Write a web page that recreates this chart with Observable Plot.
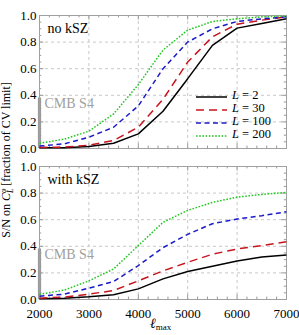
<!DOCTYPE html>
<html><head><meta charset="utf-8">
<script src="https://cdn.jsdelivr.net/npm/d3@7"></script>
<script src="https://cdn.jsdelivr.net/npm/@observablehq/plot@0.6"></script>
<style>
html,body{margin:0;padding:0;background:#fff;}
#wrap{position:relative;width:299px;height:335px;font-family:"Liberation Serif",serif;overflow:hidden;}
#wrap svg{position:absolute;left:0;}
#wrap svg text{font-family:"Liberation Serif",serif;}
.legend{position:absolute;left:196px;top:90px;font-size:12.5px;}
.legend .row{display:block;position:relative;height:13px;white-space:nowrap;}
.legend .row svg{position:absolute !important;left:0;top:4.5px;}
.legend .row span{position:absolute;left:36px;top:-1px;line-height:12px;}
#ylab{position:absolute;left:7px;top:160px;transform:translate(-50%,-50%) rotate(-90deg);font-size:12px;white-space:nowrap;}
#xlab{position:absolute;left:150px;top:317px;font-size:14px;line-height:14px;white-space:nowrap;}
#xlab .sub{font-size:9px;position:relative;top:2px;}
</style>
</head><body>
<div id="wrap"></div>
<script>
const ellMax = [2000,2500,3000,3500,4000,4500,5000,5500,6000,6500,7000];
const Ls = [2, 30, 100, 200];
const noKSZ_L2   = [0.005,0.005,0.015,0.04,0.11,0.28,0.525,0.775,0.905,0.94,0.975];
const noKSZ_L30  = [0.008,0.01,0.025,0.06,0.16,0.37,0.65,0.84,0.935,0.965,0.99];
const noKSZ_L100 = [0.018,0.035,0.085,0.16,0.32,0.6,0.8,0.9,0.955,0.975,0.99];
const noKSZ_L200 = [0.04,0.07,0.13,0.26,0.48,0.74,0.89,0.955,0.975,0.99,0.995];
const kSZ_L2   = [0.005,0.01,0.02,0.035,0.08,0.155,0.21,0.25,0.29,0.32,0.335];
const kSZ_L30  = [0.01,0.018,0.04,0.068,0.14,0.215,0.28,0.34,0.38,0.405,0.435];
const kSZ_L100 = [0.025,0.04,0.085,0.135,0.255,0.39,0.49,0.57,0.605,0.63,0.66];
const kSZ_L200 = [0.04,0.07,0.14,0.23,0.405,0.58,0.67,0.73,0.77,0.79,0.805];
const cmbS4 = 0.38;
const xTicks = [2000,3000,4000,5000,6000,7000];
const yTicks = [0,0.2,0.4,0.6,0.8,1.0];
const xMinor = d3.range(2000, 7001, 200);
const yMinor = d3.range(0, 1.0001, 0.05);
const styles = [
  {stroke:"#000000", dash:null},
  {stroke:"#c8141e", dash:"8,5"},
  {stroke:"#1a1ac8", dash:"5,3.5"},
  {stroke:"#22c822", dash:"1.6,1.6"}
];
const legendLabels = ["2","30","100","200"];
const FONT = '"Liberation Serif", serif';

function panel(series, title, top, height, marginTop, marginBottom, showX) {
  const marks = [
    Plot.gridX(xTicks.slice(1,-1), {stroke:"#c8c8c8", strokeOpacity:1, strokeDasharray:"3,3"}),
    Plot.gridY(yTicks.slice(1,-1), {stroke:"#c8c8c8", strokeOpacity:1, strokeDasharray:"3,3"}),
    Plot.ruleX(xMinor, {x:d=>d, y1:0, y2:d=>xTicks.includes(d)?0.035:0.018, stroke:"#999"}),
    Plot.ruleX(xMinor, {x:d=>d, y1:1, y2:d=>xTicks.includes(d)?0.965:0.982, stroke:"#999"}),
    Plot.ruleY(yMinor, {y:d=>d, x1:2000, x2:d=>(Math.round(d*100)%20===0)?2090:2045, stroke:"#999"}),
    Plot.ruleY(yMinor, {y:d=>d, x1:7000, x2:d=>(Math.round(d*100)%20===0)?6910:6955, stroke:"#999"}),
    Plot.ruleX([2000], {y1:0, y2:cmbS4, stroke:"#999", strokeWidth:3.2}),
    Plot.text(["CMB S4"], {x:2000, y:cmbS4-0.045, text:d=>d, textAnchor:"start", dx:5, fontSize:14, fill:"#a0a0a0"}),
    Plot.text([title], {frameAnchor:"top-left", text:d=>d, textAnchor:"start", lineAnchor:"top", dx:8, dy:8, fontSize:14, fill:"#000"}),
    Plot.frame({stroke:"#a0a0a0"}),
    Plot.axisY(yTicks, {tickSize:0, tickPadding:3, tickFormat:d=>d.toFixed(1), fontSize:13, label:null}),
  ];
  if (showX) marks.push(Plot.axisX(xTicks, {tickSize:0, tickPadding:9, tickFormat:d=>String(d), fontSize:13, label:null}));
  Ls.forEach((L,i)=>{
    const data = ellMax.map((e,j)=>({ell:e, v:series[i][j]}));
    marks.push(Plot.line(data, {x:"ell", y:"v", stroke:styles[i].stroke, strokeWidth:1.5,
      strokeDasharray:styles[i].dash, strokeLinecap:"butt", strokeLinejoin:"miter"}));
  });
  const svg = Plot.plot({
    width:299, height, marginLeft:39, marginRight:13, marginTop, marginBottom,
    x:{domain:[2000,7000], axis:null},
    y:{domain:[0,1], axis:null},
    style:{fontFamily:FONT, fontSize:"13px", color:"#000", background:"transparent"},
    marks
  });
  svg.style.top = top + "px";
  svg.style.fontFamily = FONT;
  return svg;
}

const wrap = document.getElementById("wrap");
wrap.appendChild(panel([noKSZ_L2,noKSZ_L30,noKSZ_L100,noKSZ_L200], "no kSZ", 0, 155, 15, 7, false));
wrap.appendChild(panel([kSZ_L2,kSZ_L30,kSZ_L100,kSZ_L200], "with kSZ", 155, 180, 11, 36, true));

const leg = document.createElement("div");
leg.className = "legend";
Ls.forEach((L,i)=>{
  const row = document.createElement("div");
  row.className = "row";
  const s = styles[i];
  row.innerHTML = `<svg width="31" height="4"><line x1="0" y1="2" x2="31" y2="2" stroke="${s.stroke}" stroke-width="1.5" ${s.dash?`stroke-dasharray="${s.dash}"`:""}/></svg><span><i>L</i> = ${legendLabels[i]}</span>`;
  leg.appendChild(row);
});
wrap.appendChild(leg);

const yl = document.createElement("div");
yl.id = "ylab";
yl.innerHTML = 'S/N on <i>C</i><span style="display:inline-flex;flex-direction:column;vertical-align:middle;font-size:8px;line-height:7px;"><i>φ</i><i>L</i></span> [fraction of CV limit]';
wrap.appendChild(yl);

const xl = document.createElement("div");
xl.id = "xlab";
xl.innerHTML = '<i>ℓ</i><span class="sub">max</span>';
wrap.appendChild(xl);
</script>
</body></html>
